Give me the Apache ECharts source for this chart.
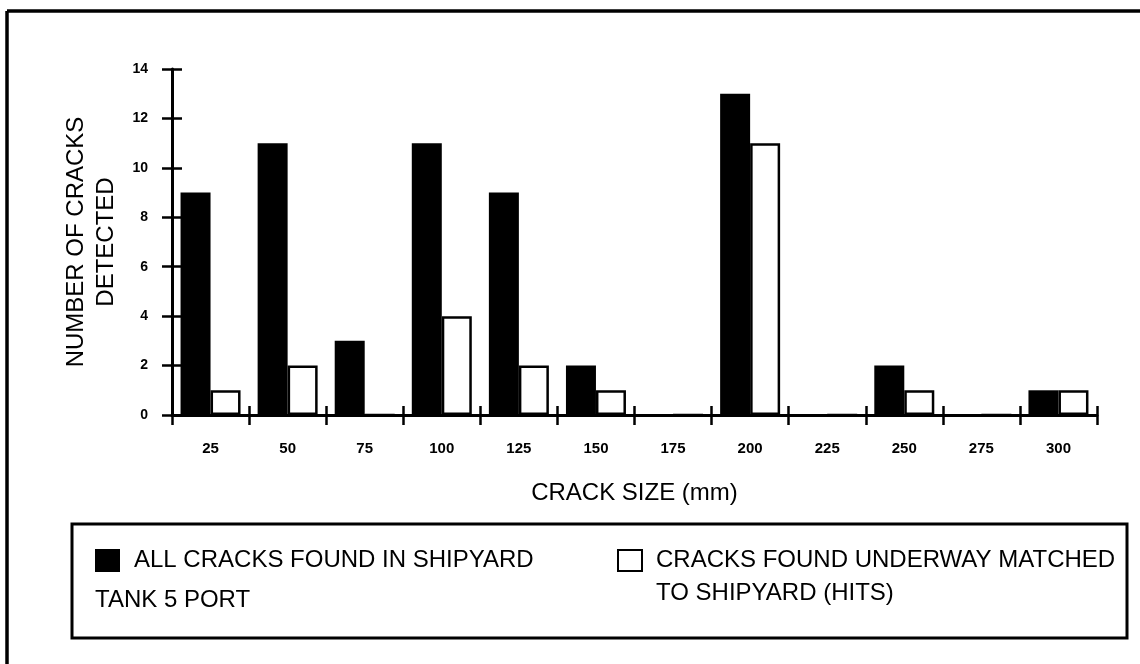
<!DOCTYPE html>
<html>
<head>
<meta charset="utf-8">
<title>Tank 5 Port crack detection</title>
<script src="https://cdn.jsdelivr.net/npm/echarts@6/dist/echarts.min.js"></script>
<style>
  html, body { margin: 0; padding: 0; background: #fff; }
  #chart { width: 1140px; height: 664px; }
</style>
</head>
<body>
<div id="chart"></div>
<script>
// Crack size bins (mm)
const crackSizes = ['25', '50', '75', '100', '125', '150', '175', '200', '225', '250', '275', '300'];
// All cracks found in the shipyard survey
const shipyardCracks = [9, 11, 3, 11, 9, 2, 0, 13, 0, 2, 0, 1];
// Cracks found underway that match shipyard findings
const underwayHits = [1, 2, 0, 4, 2, 1, 0, 11, 0, 1, 0, 1];
// Y axis range
const yTicks = { min: 0, max: 14, step: 2 };

const nameShipyard = 'ALL CRACKS FOUND IN SHIPYARD';
const nameHits = 'CRACKS FOUND UNDERWAY MATCHED\nTO SHIPYARD (HITS)';

const FONT = "'Liberation Sans', Arial, Helvetica, sans-serif";

const chart = echarts.init(document.getElementById('chart'), null, { renderer: 'canvas' });

const catAxisBase = {
  type: 'category',
  data: crackSizes,
  position: 'bottom',
  boundaryGap: true
};
const valAxisBase = {
  type: 'value',
  min: yTicks.min,
  max: yTicks.max,
  interval: yTicks.step,
  position: 'left',
  splitLine: { show: false }
};

chart.setOption({
  backgroundColor: '#fff',
  animation: false,
  textStyle: { fontFamily: FONT, color: '#000' },
  title: {
    text: 'TANK 5 PORT',
    left: 95,
    top: 588,
    padding: 0,
    textStyle: { fontFamily: FONT, fontSize: 24, fontWeight: 'normal', color: '#000' }
  },
  legend: [
    {
      data: [nameShipyard],
      left: 95,
      top: 544,
      padding: 0,
      itemWidth: 25,
      itemHeight: 23,
      icon: 'rect',
      selectedMode: false,
      textStyle: { fontFamily: FONT, fontSize: 24, color: '#000', lineHeight: 33, padding: [0, 0, 0, 9] }
    },
    {
      data: [nameHits],
      // a leading blank line keeps the icon level with the first text line
      formatter: function (name) { return '\n' + name; },
      left: 617,
      top: 511,
      padding: 0,
      itemWidth: 24,
      itemHeight: 21,
      icon: 'rect',
      selectedMode: false,
      textStyle: { fontFamily: FONT, fontSize: 24, color: '#000', lineHeight: 33, padding: [0, 0, 0, 9] }
    }
  ],
  grid: { left: 172, right: 43, top: 69, bottom: 249 },
  xAxis: [
    Object.assign({}, catAxisBase, {
      name: 'CRACK SIZE (mm)',
      nameLocation: 'middle',
      nameGap: 66,
      nameTextStyle: { fontFamily: FONT, fontSize: 24, color: '#000' },
      axisLine: { show: true, lineStyle: { color: '#000', width: 3 } },
      axisTick: { show: true, inside: false, length: 10, alignWithLabel: false, lineStyle: { color: '#000', width: 2.5 } },
      axisLabel: { margin: 26, fontFamily: FONT, fontSize: 15, fontWeight: 'bold', color: '#000' }
    }),
    Object.assign({}, catAxisBase, {
      axisLine: { show: false },
      axisTick: { show: true, inside: true, length: 9, alignWithLabel: false, lineStyle: { color: '#000', width: 2.5 } },
      axisLabel: { show: false }
    })
  ],
  yAxis: [
    Object.assign({}, valAxisBase, {
      name: 'NUMBER OF CRACKS\nDETECTED',
      nameLocation: 'middle',
      nameGap: 45,
      nameTextStyle: { fontFamily: FONT, fontSize: 24, color: '#000', lineHeight: 30, align: 'center' },
      axisLine: { show: true, lineStyle: { color: '#000', width: 3 } },
      axisTick: { show: true, inside: false, length: 10, lineStyle: { color: '#000', width: 2.5 } },
      axisLabel: { margin: 24, fontFamily: FONT, fontSize: 14, fontWeight: 'bold', color: '#000' }
    }),
    Object.assign({}, valAxisBase, {
      axisLine: { show: false },
      axisTick: { show: true, inside: true, length: 10, lineStyle: { color: '#000', width: 2.5 } },
      axisLabel: { show: false }
    })
  ],
  series: [
    {
      name: nameShipyard,
      type: 'bar',
      xAxisIndex: 0,
      yAxisIndex: 0,
      data: shipyardCracks,
      barWidth: 30,
      barGap: '0%',
      itemStyle: { color: '#000' },
      emphasis: { disabled: true }
    },
    {
      name: nameHits,
      type: 'bar',
      xAxisIndex: 0,
      yAxisIndex: 0,
      data: underwayHits,
      barWidth: 30,
      barGap: '0%',
      itemStyle: { color: '#fff', borderColor: '#000', borderWidth: 2.5 },
      emphasis: { disabled: true }
    }
  ],
  graphic: [
    // page frame (top and left rules)
    { type: 'line', shape: { x1: 7, y1: 11, x2: 1140, y2: 11 }, style: { stroke: '#000', lineWidth: 3.5 } },
    { type: 'line', shape: { x1: 7, y1: 11, x2: 7, y2: 664 }, style: { stroke: '#000', lineWidth: 3.5 } },
    // legend box
    { type: 'rect', shape: { x: 72, y: 524, width: 1055, height: 114 }, style: { fill: 'none', stroke: '#000', lineWidth: 3 }, z: -1 }
  ]
});
</script>
</body>
</html>
